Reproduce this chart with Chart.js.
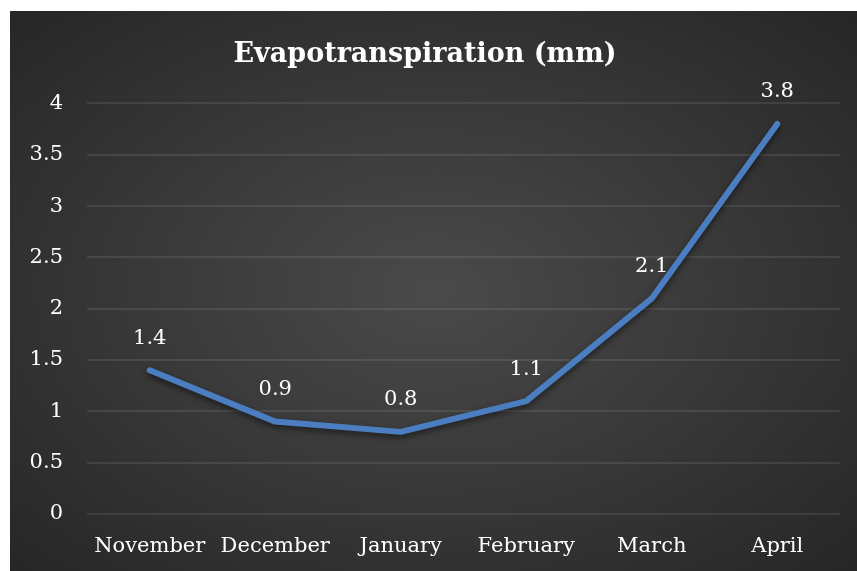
<!DOCTYPE html>
<html>
<head>
<meta charset="utf-8">
<script src="https://cdn.jsdelivr.net/npm/chart.js@4"></script>
<style>
    html, body { margin: 0; padding: 0; background: #ffffff; }
    #wrap {
        position: absolute;
        left: 10px;
        top: 11px;
        width: 847px;
        height: 560px;
        background: radial-gradient(ellipse at 50% 50%, #4a4a4a 0%, #3a3a3a 45%, #262626 100%);
    }
</style>
</head>
<body>
<div id="wrap"><canvas id="etChart"></canvas></div>
<script>
const months = ['November', 'December', 'January', 'February', 'March', 'April'];
const evapotranspiration = [1.4, 0.9, 0.8, 1.1, 2.1, 3.8];
const yMin = 0;
const yMax = 4;
const yStep = 0.5;

const serif = "'DejaVu Serif', 'Liberation Serif', serif";

// draw the value above every point
const valueLabels = {
    id: 'valueLabels',
    afterDatasetsDraw(chart) {
        const ctx = chart.ctx;
        const meta = chart.getDatasetMeta(0);
        ctx.save();
        ctx.fillStyle = '#ffffff';
        ctx.font = '21px ' + serif;
        ctx.textAlign = 'center';
        ctx.textBaseline = 'middle';
        meta.data.forEach((pt, i) => {
            ctx.fillText(String(evapotranspiration[i]), pt.x, pt.y - 32);
        });
        ctx.restore();
    }
};

// soft shadow under the line
const lineShadow = {
    id: 'lineShadow',
    beforeDatasetsDraw(chart) {
        chart.ctx.save();
        chart.ctx.shadowColor = 'rgba(0,0,0,0.55)';
        chart.ctx.shadowBlur = 6;
        chart.ctx.shadowOffsetY = 3;
    },
    afterDatasetsDraw(chart) {
        chart.ctx.restore();
    }
};

const ctx = document.getElementById('etChart').getContext('2d');
new Chart(ctx, {
    type: 'line',
    data: {
        labels: months,
        datasets: [{
            label: 'Evapotranspiration (mm)',
            data: evapotranspiration,
            borderColor: '#4a7ec0',
            borderWidth: 6,
            borderCapStyle: 'round',
            borderJoinStyle: 'round',
            pointRadius: 0,
            tension: 0,
            fill: false
        }]
    },
    options: {
        responsive: true,
        maintainAspectRatio: false,
        animation: false,
        layout: {
            padding: { left: 0, right: 17, top: 0, bottom: 0 }
        },
        plugins: {
            legend: { display: false },
            tooltip: { enabled: false },
            title: {
                display: true,
                text: 'Evapotranspiration (mm)',
                color: '#ffffff',
                font: { family: serif, size: 27, weight: 'bold' },
                padding: { top: 28, bottom: 32 }
            }
        },
        scales: {
            x: {
                offset: true,
                grid: { display: false, drawTicks: false },
                border: { display: false },
                ticks: {
                    color: '#ffffff',
                    font: { family: serif, size: 21 },
                    maxRotation: 0,
                    autoSkip: false,
                    padding: 20
                },
                afterFit(scale) { scale.height = 57; }
            },
            y: {
                min: yMin,
                max: yMax,
                grid: {
                    color: 'rgba(255,255,255,0.09)',
                    lineWidth: 2,
                    drawTicks: false
                },
                border: { display: false },
                ticks: {
                    stepSize: yStep,
                    color: '#ffffff',
                    font: { family: serif, size: 21 },
                    padding: 24,
                    callback: (v) => String(v)
                },
                afterFit(scale) { scale.width = 77; }
            }
        }
    },
    plugins: [lineShadow, valueLabels]
});
</script>
</body>
</html>
